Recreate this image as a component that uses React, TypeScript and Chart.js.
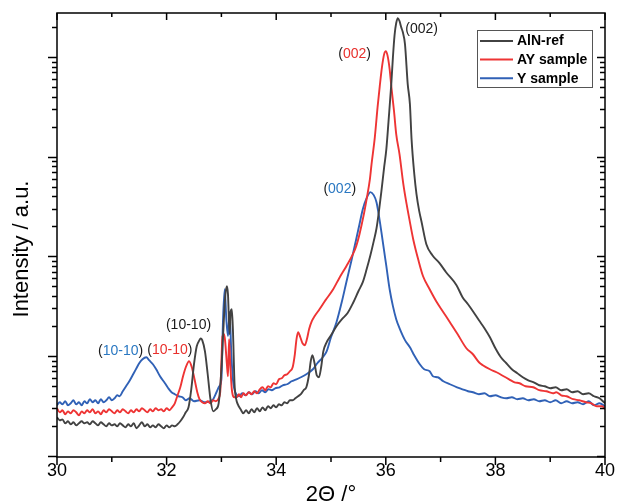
import { useEffect, useRef } from "react";
import { Chart, registerables } from "chart.js";

Chart.register(...registerables);

// ---- data: [2Θ (°), intensity (a.u.)] ----
const alnRef: [number, number][] = [
  [30, 24.2], [30.05, 22.6], [30.1, 23.1], [30.15, 21.1], [30.2, 22.1], [30.25, 20.6], [30.3, 21.6], [30.35, 20.1], [30.4, 21.1], [30.45, 22.1],
  [30.5, 21.1], [30.55, 21.6], [30.6, 20.6], [30.65, 22.1], [30.7, 21.1], [30.75, 20.1], [30.8, 21.6], [30.85, 20.6], [30.9, 19.7], [30.95, 21.1],
  [31, 20.1], [31.05, 20.6], [31.1, 19.7], [31.15, 21.1], [31.2, 20.1], [31.25, 19.2], [31.3, 20.6], [31.35, 19.7], [31.4, 21.1], [31.45, 18.8],
  [31.5, 20.1], [31.55, 21.6], [31.6, 19.7], [31.65, 20.6], [31.7, 19.2], [31.75, 20.1], [31.8, 19.2], [31.85, 20.6], [31.9, 19.7], [31.95, 18.8],
  [32, 20.1], [32.05, 19.2], [32.1, 20.1], [32.15, 19.7], [32.2, 20.6], [32.25, 22.1], [32.3, 24.2], [32.35, 27.2], [32.4, 30.5], [32.45, 46.3],
  [32.5, 82.6], [32.55, 125], [32.6, 144], [32.62, 150], [32.65, 144], [32.7, 111], [32.75, 65.5], [32.8, 36.8], [32.85, 27.8], [32.9, 29.2],
  [32.95, 33.5], [33, 73.5], [33.03, 158], [33.07, 397], [33.1, 501], [33.12, 416], [33.15, 165], [33.17, 281], [33.19, 294], [33.21, 185],
  [33.24, 52], [33.27, 36.8], [33.3, 32.7], [33.35, 29.2], [33.4, 26.6], [33.45, 28.5], [33.5, 26.6], [33.55, 29.2], [33.6, 27.2], [33.65, 29.9],
  [33.7, 27.8], [33.75, 30.5], [33.8, 28.5], [33.85, 31.3], [33.9, 29.9], [33.95, 32], [34, 30.5], [34.05, 32.7], [34.1, 32], [34.15, 34.3],
  [34.2, 33.5], [34.25, 35.9], [34.3, 35.9], [34.35, 37.6], [34.4, 39.4], [34.45, 41.3], [34.5, 45.3], [34.55, 48.5], [34.6, 65.5], [34.63, 88.5],
  [34.66, 102], [34.7, 84.5], [34.74, 64], [34.78, 61.1], [34.82, 77], [34.86, 111], [34.92, 137], [35, 161], [35.1, 199], [35.2, 234],
  [35.3, 268], [35.4, 338], [35.5, 446], [35.58, 550], [35.65, 740], [35.72, 1030], [35.78, 1420], [35.83, 1900], [35.87, 2700], [35.92, 4510],
  [35.97, 7860], [36.01, 11900], [36.05, 22750], [36.1, 53500], [36.13, 99800], [36.16, 166000], [36.19, 219300], [36.22, 245900], [36.25, 229600], [36.28, 199700],
  [36.31, 177900], [36.35, 134900], [36.4, 53500], [36.44, 33650], [36.47, 15000], [36.52, 6680], [36.56, 4210], [36.61, 2836], [36.65, 2251], [36.74, 1323],
  [36.85, 1026], [36.98, 853], [37.1, 692], [37.29, 513], [37.4, 389], [37.5, 330], [37.59, 281], [37.7, 228], [37.8, 190], [37.9, 154],
  [38, 119.5], [38.1, 97], [38.2, 84.5], [38.3, 73.5], [38.4, 67.1], [38.5, 61.1], [38.6, 57], [38.7, 54.4], [38.8, 50.8], [38.9, 49.6],
  [39, 47.4], [39.1, 48.5], [39.2, 45.3], [39.3, 46.3], [39.4, 43.2], [39.5, 44.2], [39.6, 41.3], [39.7, 42.2], [39.8, 39.4], [39.9, 37.6],
  [40, 33.5],
];

const aySample: [number, number][] = [
  [30, 29.9], [30.05, 27.2], [30.1, 28.5], [30.15, 26], [30.2, 27.8], [30.25, 26.6], [30.3, 28.5], [30.35, 27.2], [30.4, 25.4], [30.45, 27.8],
  [30.5, 26.6], [30.55, 28.5], [30.6, 27.2], [30.65, 29.2], [30.7, 26.6], [30.75, 27.8], [30.8, 26], [30.85, 28.5], [30.9, 27.2], [30.95, 29.2],
  [31, 27.8], [31.05, 26.6], [31.1, 28.5], [31.15, 27.2], [31.2, 29.2], [31.25, 27.8], [31.3, 26.6], [31.35, 28.5], [31.4, 27.2], [31.45, 29.2],
  [31.5, 27.8], [31.55, 29.9], [31.6, 28.5], [31.65, 27.2], [31.7, 29.2], [31.75, 27.8], [31.8, 29.9], [31.85, 28.5], [31.9, 29.2], [31.95, 27.8],
  [32, 29.9], [32.05, 28.5], [32.1, 30.5], [32.15, 33.5], [32.2, 40.3], [32.25, 48.5], [32.3, 62.6], [32.35, 77], [32.41, 88.5], [32.46, 77],
  [32.51, 58.3], [32.56, 43.2], [32.6, 36.8], [32.65, 34.3], [32.7, 33.5], [32.75, 35.1], [32.8, 33.5], [32.85, 35.9], [32.9, 35.1], [32.95, 37.6],
  [32.98, 44.2], [33, 86.4], [33.02, 158], [33.05, 165], [33.07, 137], [33.1, 82.6], [33.12, 62.6], [33.14, 147], [33.16, 86.4], [33.19, 46.3],
  [33.24, 38.5], [33.28, 38.5], [33.32, 41.3], [33.36, 38.5], [33.4, 42.2], [33.45, 40.3], [33.5, 43.2], [33.55, 41.3], [33.6, 44.2], [33.65, 42.2],
  [33.7, 46.3], [33.75, 48.5], [33.8, 45.3], [33.85, 49.6], [33.9, 48.5], [33.95, 53.2], [34, 52], [34.05, 58.3], [34.1, 59.7], [34.15, 64],
  [34.2, 65.5], [34.25, 70.2], [34.3, 77], [34.34, 104], [34.37, 147], [34.4, 173], [34.44, 154], [34.48, 134], [34.52, 128], [34.56, 147],
  [34.6, 185], [34.65, 223], [34.7, 250], [34.79, 294], [34.9, 363], [35.04, 467], [35.15, 603], [35.28, 796], [35.4, 1050], [35.46, 1263],
  [35.52, 1667], [35.6, 2647], [35.65, 3743], [35.71, 5950], [35.74, 8420], [35.8, 15740], [35.85, 31400], [35.89, 51100], [35.93, 79200], [35.97, 106900],
  [36, 114600], [36.03, 104500], [36.07, 75600], [36.1, 51100], [36.15, 28640], [36.19, 16860], [36.25, 10600], [36.32, 5300], [36.38, 3335], [36.43, 2360],
  [36.5, 1485], [36.6, 893], [36.68, 631], [36.8, 467], [36.92, 354], [37.05, 275], [37.17, 218], [37.3, 169], [37.47, 119.5], [37.59, 104],
  [37.7, 86.4], [37.77, 80.7], [37.9, 73.5], [38.02, 68.6], [38.15, 62.6], [38.25, 58.3], [38.35, 54.4], [38.44, 53.2], [38.55, 49.6], [38.69, 48.5],
  [38.8, 45.3], [38.93, 44.2], [39.05, 42.2], [39.11, 43.2], [39.2, 40.3], [39.3, 39.4], [39.42, 36.8], [39.53, 35.9], [39.65, 34.3], [39.75, 33.5],
  [39.85, 31.3], [39.95, 31.3], [40, 29.2],
];

const ySample: [number, number][] = [
  [30, 32], [30.05, 34.3], [30.1, 32.7], [30.15, 35.1], [30.2, 32], [30.25, 33.5], [30.3, 35.9], [30.35, 32.7], [30.4, 34.3], [30.45, 32],
  [30.5, 35.1], [30.55, 33.5], [30.6, 36.8], [30.65, 34.3], [30.7, 35.9], [30.75, 33.5], [30.8, 36.8], [30.85, 34.3], [30.9, 35.9], [30.95, 38.5],
  [31, 35.9], [31.05, 37.6], [31.1, 40.3], [31.14, 39.4], [31.2, 44.2], [31.26, 49.6], [31.33, 57], [31.4, 67.1], [31.45, 75.3], [31.5, 84.5],
  [31.56, 92.7], [31.63, 97], [31.68, 90.6], [31.75, 82.6], [31.81, 73.5], [31.88, 62.6], [31.97, 53.2], [32.03, 47.4], [32.09, 43.2], [32.15, 41.3],
  [32.22, 39.4], [32.29, 38.5], [32.35, 35.9], [32.42, 37.6], [32.5, 35.1], [32.6, 35.9], [32.7, 34.3], [32.79, 35.1], [32.85, 36.8], [32.91, 43.2],
  [32.96, 49.6], [33, 58.3], [33.03, 234], [33.06, 467], [33.09, 234], [33.12, 158], [33.15, 275], [33.18, 109], [33.21, 58.3], [33.27, 41.3],
  [33.32, 39.4], [33.38, 42.2], [33.44, 40.3], [33.5, 43.2], [33.56, 41.3], [33.62, 44.2], [33.68, 42.2], [33.74, 45.3], [33.8, 43.2], [33.86, 46.3],
  [33.92, 45.3], [33.98, 47.4], [34.06, 48.5], [34.12, 50.8], [34.2, 52], [34.28, 55.7], [34.37, 58.3], [34.45, 61.1], [34.55, 65.5], [34.67, 73.5],
  [34.75, 84.5], [34.85, 97], [34.92, 111], [35, 154], [35.1, 218], [35.2, 354], [35.28, 550], [35.37, 893], [35.46, 1485], [35.52, 2101],
  [35.58, 2972], [35.65, 3831], [35.72, 4410], [35.78, 4110], [35.83, 3493], [35.87, 2647], [35.92, 1746], [35.97, 1125], [36.01, 796], [36.07, 467],
  [36.13, 316], [36.19, 234], [36.25, 190], [36.35, 144], [36.44, 122], [36.5, 106], [36.62, 82.6], [36.7, 73.5], [36.8, 70.2], [36.86, 62.6],
  [36.95, 61.1], [37.05, 55.7], [37.17, 52], [37.3, 48.5], [37.4, 46.3], [37.5, 44.2], [37.59, 43.2], [37.7, 41.3], [37.8, 42.2], [37.9, 39.4],
  [38, 40.3], [38.1, 38.5], [38.2, 37.6], [38.3, 38.5], [38.4, 36.8], [38.5, 37.6], [38.6, 35.9], [38.7, 36.8], [38.8, 35.1], [38.9, 35.9],
  [39, 34.3], [39.1, 35.9], [39.2, 33.5], [39.3, 35.1], [39.4, 33.5], [39.5, 34.3], [39.6, 32.7], [39.7, 35.1], [39.8, 32], [39.9, 33.5],
  [40, 31.3],
];

const seriesLabels = ["AlN-ref", "AY sample", "Y sample"];
const xTickValues = [30, 32, 34, 36, 38, 40];
const xRange = [30, 40];
const yRange = [9.68, 276500];

// peak labels: [text, colour key] parts and anchor in data units
const peakLabels: { parts: [string, string][]; x: number; y: number }[] = [
  { parts: [["(002)", "k"]], x: 36.655, y: 190700 },
  { parts: [["(", "k"], ["002", "r"], [")", "k"]], x: 35.43, y: 106900 },
  { parts: [["(", "k"], ["002", "b"], [")", "k"]], x: 35.16, y: 4720 },
  { parts: [["(10-10)", "k"]], x: 32.4, y: 203 },
  { parts: [["(", "k"], ["10-10", "r"], [")", "k"]], x: 32.06, y: 114 },
  { parts: [["(", "k"], ["10-10", "b"], [")", "k"]], x: 31.16, y: 111 },
];

const FONT = "'Liberation Sans', Arial, Helvetica, sans-serif";
const lineColors = ["#424242", "#ee3434", "#3061b6"];
const labelColors: Record<string, string> = { k: "#1a1a1a", r: "#e8302c", b: "#2a78c2" };

const decor = {
  id: "decor",
  afterDraw(chart: any) {
    const { ctx, chartArea: a, scales } = chart;
    const xs = scales.x;
    const ys = scales.y;
    ctx.save();
    ctx.strokeStyle = "#000";
    ctx.lineWidth = 1.5;
    const seg = (x1: number, y1: number, x2: number, y2: number) => {
      ctx.beginPath();
      ctx.moveTo(x1, y1);
      ctx.lineTo(x2, y2);
      ctx.stroke();
    };
    ctx.strokeRect(a.left, a.top, a.right - a.left, a.bottom - a.top);
    for (let v = xRange[0]; v <= xRange[1]; v++) {
      const px = xs.getPixelForValue(v);
      const major = v % 2 === 0;
      seg(px, a.bottom, px, a.bottom + (major ? 8 : 5));
      seg(px, a.top, px, a.top + (major ? 7 : 4));
    }
    for (let e = 0; e <= 6; e++) {
      for (let m = 1; m <= 9; m++) {
        const v = m * Math.pow(10, e);
        if (v < ys.min || v > ys.max) continue;
        const py = Math.round(ys.getPixelForValue(v)) + 0.5;
        const major = m === 1;
        seg(a.left - (major ? 9 : 5), py, a.left, py);
        seg(a.right - (major ? 8 : 5), py, a.right, py);
      }
    }
    // axis titles
    ctx.fillStyle = "#000";
    ctx.font = `22px ${FONT}`;
    ctx.textAlign = "center";
    ctx.textBaseline = "alphabetic";
    ctx.fillText("2Θ /°", (a.left + a.right) / 2, 501);
    ctx.save();
    ctx.translate(22, 249);
    ctx.rotate(-Math.PI / 2);
    ctx.textBaseline = "middle";
    ctx.fillText("Intensity / a.u.", 0, 0);
    ctx.restore();

    // peak labels
    ctx.font = `14px ${FONT}`;
    ctx.textBaseline = "middle";
    ctx.textAlign = "left";
    for (const lab of peakLabels) {
      const cx = xs.getPixelForValue(lab.x);
      const cy = ys.getPixelForValue(lab.y);
      const total = lab.parts.reduce((s, p) => s + ctx.measureText(p[0]).width, 0);
      let x = cx - total / 2;
      for (const [t, c] of lab.parts) {
        ctx.fillStyle = labelColors[c];
        ctx.fillText(t, x, cy);
        x += ctx.measureText(t).width;
      }
    }

    // legend
    const lx = 477.5, ly = 30.5, lw = 115, lh = 57;
    ctx.strokeStyle = "#555";
    ctx.lineWidth = 1;
    ctx.strokeRect(lx, ly, lw, lh);
    ctx.font = `bold 14px ${FONT}`;
    ctx.textBaseline = "middle";
    chart.data.datasets.forEach((ds: any, i: number) => {
      const rowY = 41 + i * 18.6;
      ctx.strokeStyle = ds.borderColor;
      ctx.lineWidth = 2;
      seg(480, rowY, 513, rowY);
      ctx.fillStyle = "#000";
      ctx.fillText(ds.label, 517, rowY + 0.5);
    });
    ctx.restore();
  },
};

export default function App() {
  const ref = useRef<HTMLCanvasElement | null>(null);
  useEffect(() => {
    document.body.style.margin = "0";
    const canvas = ref.current;
    if (!canvas) return;
    const all = [alnRef, aySample, ySample];
    const chart = new Chart(canvas, {
      type: "line",
      data: {
        datasets: all.map((d, i) => ({
          label: seriesLabels[i],
          data: d.map(([x, y]) => ({ x, y })),
          borderColor: lineColors[i],
          backgroundColor: lineColors[i],
          borderWidth: 1.9,
          pointRadius: 0,
          fill: false,
          cubicInterpolationMode: "monotone" as const,
        })),
      },
      options: {
        responsive: false,
        animation: false,
        events: [],
        layout: { padding: { top: 13, right: 14, left: 0, bottom: 0 } },
        plugins: { legend: { display: false }, tooltip: { enabled: false }, title: { display: false } },
        scales: {
          x: {
            type: "linear",
            min: xRange[0],
            max: xRange[1],
            afterFit: (s: any) => { s.height = 47; },
            afterBuildTicks: (s: any) => { s.ticks = xTickValues.map((v) => ({ value: v })); },
            ticks: {
              autoSkip: false,
              maxRotation: 0,
              padding: 3,
              color: "#000",
              font: { size: 18, family: FONT },
              callback: (v: any) => String(v),
            },
            grid: { display: false, drawTicks: false },
            border: { display: false },
          },
          y: {
            type: "logarithmic",
            min: yRange[0],
            max: yRange[1],
            afterFit: (s: any) => { s.width = 57; },
            ticks: { display: false },
            grid: { display: false, drawTicks: false },
            border: { display: false },
          },
        },
      },
      plugins: [decor],
    });
    return () => chart.destroy();
  }, []);
  return (
    <div style={{ position: "absolute", left: 0, top: 0, width: 619, height: 504, background: "#fff" }}>
      <canvas ref={ref} width={619} height={504} style={{ display: "block" }} />
    </div>
  );
}
